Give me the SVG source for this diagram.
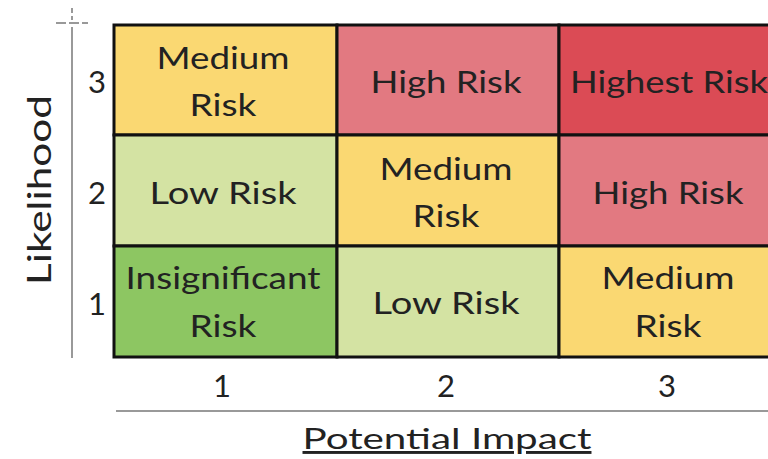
<svg xmlns="http://www.w3.org/2000/svg" width="768" height="459" viewBox="0 0 768 459">
<style>
.cell{stroke:#111;stroke-width:3}
.t{font-family:Lato,"Liberation Sans",sans-serif;font-size:30px;fill:#222;text-anchor:middle}
.n{font-family:Lato,"Liberation Sans",sans-serif;font-size:31px;fill:#222;text-anchor:middle}
.ax{stroke:#999;stroke-width:2;fill:none}
.med{fill:#FAD872}.low{fill:#D4E3A3}.ins{fill:#8DC662}.high{fill:#E27981}.top{fill:#DB4B55}
</style>
<rect width="768" height="459" fill="#fff"/>
<g id="axes">
<line class="ax" x1="72" y1="8" x2="72" y2="20" stroke-dasharray="5,3"/>
<line class="ax" x1="56" y1="23" x2="88" y2="23" stroke-dasharray="10,3"/>
<line class="ax" x1="72" y1="27" x2="72" y2="358"/>
<line class="ax" x1="116" y1="411" x2="768" y2="411"/>
</g>
<g id="c31"><rect class="cell med" x="114" y="25" width="223" height="110"/><text class="t" x="223" y="69" textLength="133" lengthAdjust="spacingAndGlyphs">Medium</text><text class="t" x="223" y="116" textLength="67" lengthAdjust="spacingAndGlyphs">Risk</text></g>
<g id="c32"><rect class="cell high" x="337" y="25" width="222" height="110"/><text class="t" x="446" y="93" textLength="151" lengthAdjust="spacingAndGlyphs">High Risk</text></g>
<g id="c33"><rect class="cell top" x="559" y="25" width="212" height="110"/><text class="t" x="669" y="93" textLength="198" lengthAdjust="spacingAndGlyphs">Highest Risk</text></g>
<g id="c21"><rect class="cell low" x="114" y="135" width="223" height="111"/><text class="t" x="223" y="204" textLength="147" lengthAdjust="spacingAndGlyphs">Low Risk</text></g>
<g id="c22"><rect class="cell med" x="337" y="135" width="222" height="111"/><text class="t" x="446" y="180" textLength="133" lengthAdjust="spacingAndGlyphs">Medium</text><text class="t" x="446" y="227" textLength="67" lengthAdjust="spacingAndGlyphs">Risk</text></g>
<g id="c23"><rect class="cell high" x="559" y="135" width="212" height="111"/><text class="t" x="668" y="204" textLength="151" lengthAdjust="spacingAndGlyphs">High Risk</text></g>
<g id="c11"><rect class="cell ins" x="114" y="246" width="223" height="111"/><text class="t" x="223" y="289" textLength="195" lengthAdjust="spacingAndGlyphs">Insignificant</text><text class="t" x="223" y="337" textLength="67" lengthAdjust="spacingAndGlyphs">Risk</text></g>
<g id="c12"><rect class="cell low" x="337" y="246" width="222" height="111"/><text class="t" x="446" y="314" textLength="147" lengthAdjust="spacingAndGlyphs">Low Risk</text></g>
<g id="c13"><rect class="cell med" x="559" y="246" width="212" height="111"/><text class="t" x="668" y="289" textLength="133" lengthAdjust="spacingAndGlyphs">Medium</text><text class="t" x="668" y="337" textLength="67" lengthAdjust="spacingAndGlyphs">Risk</text></g>
<g id="labels">
<text class="n" x="97" y="93">3</text>
<text class="n" x="97" y="204">2</text>
<text class="n" x="97" y="315">1</text>
<text class="n" x="222" y="397">1</text>
<text class="n" x="446" y="397">2</text>
<text class="n" x="667" y="397">3</text>
<text class="t" x="0" y="0" transform="translate(51,190) rotate(-90)" style="font-size:33px" textLength="190" lengthAdjust="spacingAndGlyphs">Likelihood</text>
<text class="t" x="447" y="449" style="font-size:29px" textLength="289" lengthAdjust="spacingAndGlyphs" text-decoration="underline">Potential Impact</text>
</g>
</svg>
